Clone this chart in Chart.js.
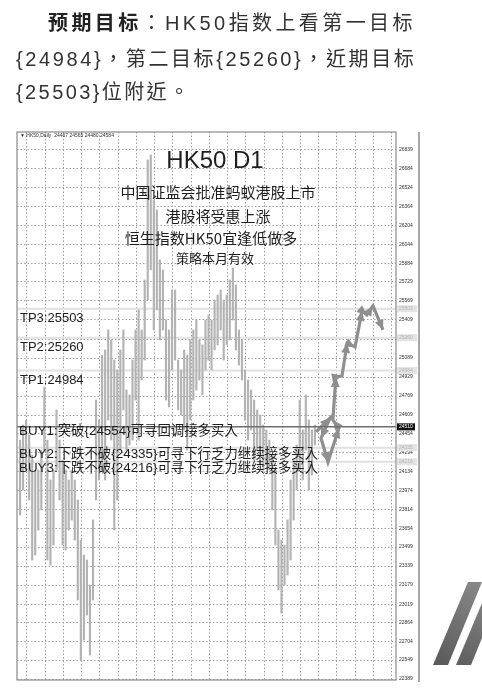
<!DOCTYPE html>
<html lang="zh-Hant"><head><meta charset="utf-8">
<script src="https://cdn.jsdelivr.net/npm/chart.js@4"></script>
<style>
html,body{margin:0;padding:0;background:#fff;width:482px;height:691px;overflow:hidden;}
#wrap{position:relative;width:482px;height:691px;}
canvas{position:absolute;left:0;top:0;}
.hl{position:absolute;font-family:"Liberation Sans","Noto Sans CJK TC",sans-serif;font-size:20px;line-height:24px;color:#333;white-space:nowrap;}
.hl b{font-weight:700;color:#222;}
.pc{font-family:"Noto Sans CJK TC",sans-serif;}
</style></head><body>
<div id="wrap">
<canvas id="c" width="482" height="691"></canvas>
<div class="hl" lang="zh-Hant" style="left:48px;top:10px;letter-spacing:3.4px"><b>预期目标</b><span class="pc">：</span>HK50指数上看第一目标</div>
<div class="hl" lang="zh-Hant" style="left:16px;top:46px;letter-spacing:2.6px">{24984}<span class="pc">，</span>第二目标{25260}<span class="pc">，</span>近期目标</div>
<div class="hl" lang="zh-Hant" style="left:16px;top:79px;letter-spacing:2.4px">{25503}位附近<span class="pc">。</span></div>
</div>
<script>
// ---- data ----
const yTicks = [22389,22549,22704,22864,23019,23179,23339,23499,23654,23814,23974,24134,24294,24454,24609,24769,24929,25089,25249,25409,25569,25729,25884,26044,26204,26364,26524,26684,26839];
const barHigh = [24399,24526,24568,24442,24273,24147,24147,24315,24845,24399,
  24063,24147,24652,24399,24231,24147,24063,24147,24063,23895,
  23558,23432,23390,23180,23727,24736,24568,25114,25157,25325,
  25241,25072,24988,25157,25325,24820,24778,25072,25325,25493,
  25325,25745,26755,26797,26418,26334,25914,25830,25409,25325,
  25661,25661,25072,24988,25157,25114,25241,25325,25409,25241,
  25199,25409,25451,25409,25577,25619,25661,25577,25619,25745,
  25846,25703,25325,25241,24988,24904,24820,24736,24652,24610,
  24526,24484,24399,24273,24147,23642,23558,23516,23727,24063,
  24231,24357,24736,24484,24778,24568,24484,24526];
const barLow = [23769,23979,24147,23895,23390,23432,23642,23811,24315,23390,
  23348,23516,24147,23895,23516,23474,23642,23727,23558,23054,
  22549,22717,22927,22591,23054,23895,24063,24147,24063,24568,
  24399,23642,23895,24315,24652,24315,24357,24399,24736,24399,
  24904,25072,25577,25830,25325,25493,25241,25325,24736,24677,
  24988,25072,24652,24610,24484,24315,24568,24736,24820,24904,
  24778,24988,25072,24988,25157,25199,25325,25072,25199,25241,
  25409,25157,25030,24904,24568,24399,24484,24231,24315,24189,
  24147,24189,24147,23811,23516,23138,22944,23180,23264,23390,
  23727,23979,24147,24063,24315,23979,24105,24357];
const forecastX = [98.4,103.0,100.0,102.3,105.9,103.9,104.9,106.9,108.6,111.2,113.5,115.1,117.1,120.4];
const forecastY = [24467,24585,24416,24214,24500,24568,24929,24938,25215,25182,25485,25451,25527,25325];
const tpLabels = ['TP3:25503','TP2:25260','TP1:24984'];
const tpValues = [25503,25260,24984];
const buyLabels = ['BUY1:突破{24554}可寻回调接多买入','BUY2:下跌不破{24335}可寻下行乏力继续接多买入','BUY3:下跌不破{24216}可寻下行乏力继续接多买入'];
const buyValues = [24554,24335,24216];
const currentPrice = 24510;
const quoteText = '▼ HK50,Daily  24467 24565 24480 24584';
const titleLines = ['HK50 D1','中国证监会批准蚂蚁港股上市','港股将受惠上涨','恒生指数HK50宜逢低做多','策略本月有效'];

// ---- layout helpers (not data) ----
const X_MAX = 124.67, Y_MIN = 22381, Y_MAX = 26990;
const gridX = []; for (let k = 0; k < 20; k++) gridX.push(6.25 + 6 * k);

const bars = barHigh.map((h, i) => ({ x: i + 1, y: [barLow[i], h] }));
const fc = forecastX.map((x, i) => ({ x: x, y: forecastY[i] }));

const CJK = '"Noto Sans CJK SC", "Liberation Sans", sans-serif';
const LAT = '"Liberation Sans", "Noto Sans CJK SC", sans-serif';

const deco = {
  id: 'deco',
  beforeDatasetsDraw(chart) {
    const { ctx, chartArea: a, scales: { y } } = chart;
    ctx.save();
    ctx.strokeStyle = '#e1e1e1'; ctx.lineWidth = 2;
    [...tpValues, buyValues[1], buyValues[2]].forEach(v => {
      const py = y.getPixelForValue(v);
      ctx.beginPath(); ctx.moveTo(a.left, py); ctx.lineTo(a.right, py); ctx.stroke();
    });
    ctx.restore();
  },
  afterDatasetsDraw(chart) {
    const { ctx, chartArea: a, scales: { y } } = chart;
    ctx.save();
    const pts = chart.getDatasetMeta(1).data;
    ctx.fillStyle = '#8f8f8f';
    for (let i = 1; i < pts.length; i++) {
      const p0 = pts[i - 1], p1 = pts[i];
      const ang = Math.atan2(p1.y - p0.y, p1.x - p0.x);
      const L = 10, W = 4.5;
      ctx.beginPath();
      ctx.moveTo(p1.x, p1.y);
      ctx.lineTo(p1.x - L * Math.cos(ang) + W * Math.sin(ang), p1.y - L * Math.sin(ang) - W * Math.cos(ang));
      ctx.lineTo(p1.x - L * Math.cos(ang) - W * Math.sin(ang), p1.y - L * Math.sin(ang) + W * Math.cos(ang));
      ctx.closePath(); ctx.fill();
    }
    const cy = y.getPixelForValue(currentPrice);
    ctx.strokeStyle = '#6e6e6e'; ctx.lineWidth = 1.5;
    ctx.beginPath(); ctx.moveTo(a.left, cy); ctx.lineTo(a.right, cy); ctx.stroke();

    ctx.fillStyle = '#1e1e1e';
    ctx.textAlign = 'center'; ctx.textBaseline = 'middle';
    const cx = 215;
    ctx.font = '24px ' + LAT; ctx.fillText(titleLines[0], cx, 161);
    ctx.font = '15px ' + CJK;
    ctx.fillText(titleLines[1], cx + 3, 192);
    ctx.fillText(titleLines[2], cx + 3, 216);
    ctx.fillText(titleLines[3], cx - 4, 238);
    ctx.font = '13px ' + CJK; ctx.fillText(titleLines[4], cx, 258);

    ctx.textAlign = 'left';
    ctx.font = '13px ' + LAT;
    tpLabels.forEach((t, i) => ctx.fillText(t, a.left + 3, y.getPixelForValue(tpValues[i]) + 10));
    ctx.font = '13.4px ' + LAT;
    const offs = [10, 6.5, 6.5];
    buyLabels.forEach((t, i) => ctx.fillText(t, a.left + 2, y.getPixelForValue(buyValues[i]) + offs[i]));

    ctx.font = '5px ' + LAT; ctx.fillStyle = '#333';
    ctx.fillText(quoteText, a.left + 3, a.top + 4);
    ctx.restore();
  },
  afterDraw(chart) {
    const { ctx, chartArea: a, scales: { y } } = chart;
    ctx.save();
    ctx.strokeStyle = '#8a8a8a'; ctx.lineWidth = 1.2;
    ctx.strokeRect(a.left, a.top, a.right - a.left, a.bottom - a.top);
    ctx.lineWidth = 1.5;
    ctx.beginPath(); ctx.moveTo(419, a.top); ctx.lineTo(419, a.bottom + 2); ctx.stroke();
    ctx.font = '5px ' + LAT; ctx.textBaseline = 'middle'; ctx.textAlign = 'left';
    [...tpValues, buyValues[1], buyValues[2]].forEach(v => {
      const py = y.getPixelForValue(v);
      ctx.fillStyle = '#e3e3e3'; ctx.fillRect(a.right + 1, py - 3.5, 20, 7);
      ctx.fillStyle = '#b5b5b5'; ctx.fillText(String(v), a.right + 3, py);
    });
    const cy = y.getPixelForValue(currentPrice);
    ctx.fillStyle = '#111'; ctx.fillRect(a.right + 1, cy - 3.5, 18, 7);
    ctx.fillStyle = '#fff'; ctx.fillText(String(currentPrice), a.right + 3, cy);
    const g = ctx.createLinearGradient(440, 665, 482, 580);
    g.addColorStop(0, '#5a5a5a'); g.addColorStop(1, '#8a8a8a');
    ctx.fillStyle = g;
    ctx.beginPath(); ctx.moveTo(433, 665); ctx.lineTo(448, 665); ctx.lineTo(482, 582); ctx.lineTo(468, 582); ctx.closePath(); ctx.fill();
    ctx.beginPath(); ctx.moveTo(456, 665); ctx.lineTo(471, 665); ctx.lineTo(482, 638); ctx.lineTo(482, 603); ctx.closePath(); ctx.fill();
    ctx.restore();
  }
};

new Chart(document.getElementById('c'), {
  type: 'bar',
  data: {
    datasets: [
      { type: 'bar', data: bars, backgroundColor: '#b3b3b3', barThickness: 1.5, order: 2 },
      { type: 'line', data: fc, borderColor: '#8f8f8f', borderWidth: 3.2, pointRadius: 0, tension: 0, order: 1, fill: false }
    ]
  },
  options: {
    responsive: false, animation: false,
    layout: { padding: { left: 17, top: 132, right: 62, bottom: 11 } },
    plugins: { legend: { display: false }, tooltip: { enabled: false }, title: { display: false } },
    scales: {
      x: {
        type: 'linear', min: 0, max: X_MAX, offset: false,
        grid: { color: '#a0a0a0', lineWidth: 1, drawTicks: false },
        border: { display: false, dash: [1.5, 2] },
        ticks: { display: false },
        afterBuildTicks(s) { s.ticks = gridX.map(v => ({ value: v })); },
        afterFit(s) { s.height = 0; }
      },
      y: {
        position: 'right', min: Y_MIN, max: Y_MAX,
        grid: { color: '#a0a0a0', lineWidth: 1, drawTicks: false },
        border: { display: false, dash: [1.5, 2] },
        ticks: { font: { size: 5, family: 'Liberation Sans' }, color: '#333', padding: 3, autoSkip: false, callback: v => String(v) },
        afterBuildTicks(s) { s.ticks = yTicks.map(v => ({ value: v })); },
        afterFit(s) { s.width = 24; }
      }
    }
  },
  plugins: [deco]
});
</script>
</body></html>
